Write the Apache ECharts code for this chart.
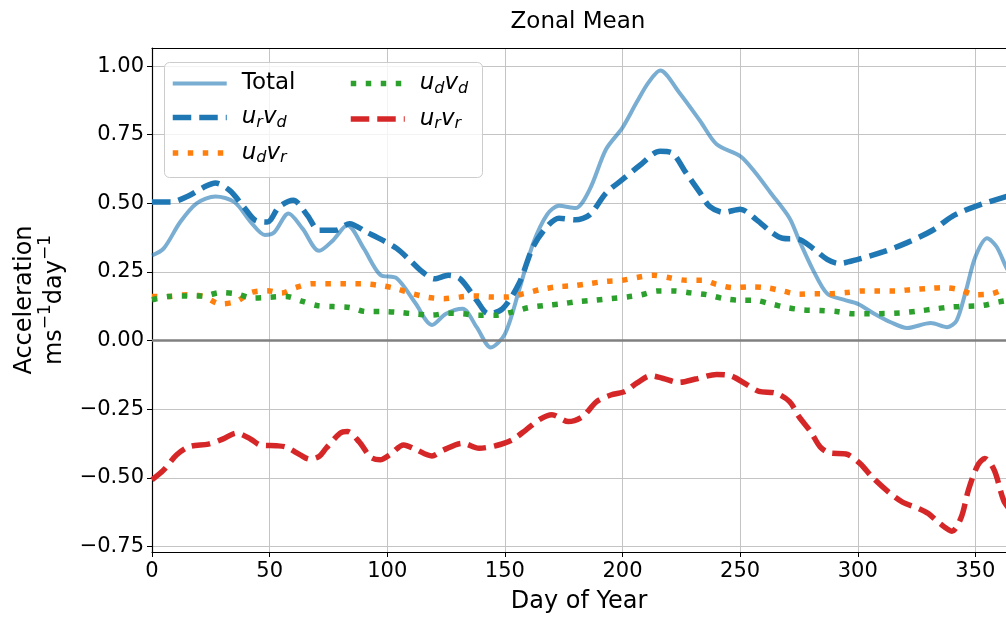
<!DOCTYPE html>
<html>
<head>
<meta charset="utf-8">
<script src="https://cdn.jsdelivr.net/npm/echarts@6/dist/echarts.min.js"></script>
<style>
  html, body { margin: 0; padding: 0; background: #fff; }
  #chart { width: 1006px; height: 617px; }
</style>
</head>
<body>
<div id="chart"></div>
<script>
// tick labels
var xTicks = [0, 50, 100, 150, 200, 250, 300, 350];
var yTicks = [-0.75, -0.5, -0.25, 0, 0.25, 0.5, 0.75, 1.0];

// Total
var totalDays = [0, 5, 12, 19, 27, 35, 42, 48, 52, 58, 64, 71, 77, 83, 90, 97, 104, 112, 119, 125, 132, 138, 144, 150, 156, 162, 168, 173, 180, 186, 193, 200, 206, 211, 216, 224, 233, 240, 250, 256, 263, 271, 275, 281, 287, 294, 300, 307, 314, 321, 331, 338, 342, 346, 350, 355, 359, 363, 365];
var totalVals = [0.31, 0.336, 0.432, 0.50, 0.525, 0.505, 0.432, 0.385, 0.395, 0.463, 0.408, 0.327, 0.366, 0.42, 0.336, 0.24, 0.227, 0.136, 0.057, 0.098, 0.116, 0.049, -0.025, 0.024, 0.183, 0.354, 0.46, 0.491, 0.483, 0.55, 0.697, 0.776, 0.868, 0.94, 0.984, 0.905, 0.80, 0.715, 0.672, 0.617, 0.538, 0.446, 0.367, 0.257, 0.171, 0.149, 0.134, 0.098, 0.067, 0.046, 0.064, 0.049, 0.073, 0.183, 0.306, 0.373, 0.342, 0.269, 0.24];

// u_r v_d
var urvdDays = [0, 8, 15, 22, 27, 33, 39, 44, 49, 54, 60, 66, 71, 78, 84, 91, 98, 104, 110, 115, 120, 126, 131, 138, 143, 149, 156, 162, 168, 173, 180, 186, 193, 200, 207, 216, 221, 227, 233, 237, 243, 250, 257, 263, 268, 275, 281, 287, 292, 300, 311, 321, 332, 340, 350, 365];
var urvdVals = [0.505, 0.505, 0.525, 0.559, 0.574, 0.547, 0.487, 0.438, 0.432, 0.487, 0.511, 0.457, 0.402, 0.402, 0.426, 0.396, 0.366, 0.336, 0.29, 0.25, 0.225, 0.238, 0.225, 0.147, 0.098, 0.116, 0.208, 0.342, 0.416, 0.446, 0.44, 0.458, 0.538, 0.587, 0.636, 0.69, 0.684, 0.611, 0.538, 0.489, 0.467, 0.479, 0.44, 0.397, 0.373, 0.369, 0.336, 0.296, 0.281, 0.296, 0.324, 0.357, 0.403, 0.452, 0.489, 0.53];

// u_d v_r
var udvrDays = [0, 7, 15, 22, 29, 36, 42, 49, 55, 61, 68, 83, 89, 96, 103, 110, 117, 124, 131, 137, 144, 151, 158, 165, 172, 179, 186, 193, 200, 206, 213, 220, 227, 234, 240, 247, 254, 261, 268, 275, 282, 288, 295, 302, 316, 323, 330, 337, 343, 350, 357, 363, 365];
var udvrVals = [0.161, 0.161, 0.167, 0.161, 0.134, 0.143, 0.175, 0.182, 0.173, 0.193, 0.207, 0.207, 0.207, 0.202, 0.191, 0.173, 0.158, 0.153, 0.159, 0.163, 0.159, 0.159, 0.171, 0.186, 0.196, 0.2, 0.208, 0.216, 0.22, 0.23, 0.238, 0.229, 0.22, 0.22, 0.205, 0.193, 0.196, 0.193, 0.181, 0.169, 0.171, 0.171, 0.175, 0.181, 0.181, 0.186, 0.19, 0.193, 0.186, 0.167, 0.171, 0.19, 0.195];

// u_d v_d
var udvdDays = [0, 7, 15, 22, 29, 36, 43, 50, 57, 64, 70, 77, 84, 91, 98, 105, 112, 119, 126, 132, 139, 146, 153, 160, 167, 174, 180, 188, 195, 202, 208, 215, 222, 229, 236, 243, 250, 256, 263, 270, 277, 284, 291, 298, 305, 318, 326, 333, 339, 346, 353, 360, 365];
var udvdVals = [0.149, 0.161, 0.163, 0.163, 0.175, 0.17, 0.155, 0.158, 0.161, 0.143, 0.128, 0.124, 0.121, 0.106, 0.106, 0.103, 0.097, 0.093, 0.1, 0.098, 0.092, 0.092, 0.104, 0.12, 0.128, 0.134, 0.141, 0.147, 0.153, 0.159, 0.167, 0.181, 0.181, 0.174, 0.167, 0.153, 0.147, 0.147, 0.134, 0.12, 0.112, 0.11, 0.106, 0.098, 0.098, 0.101, 0.108, 0.116, 0.122, 0.125, 0.128, 0.141, 0.148];

// u_r v_r
var urvrDays = [0, 5, 10.5, 16, 24, 30, 36, 42, 46, 53, 57, 63, 67, 71, 74, 80, 83, 88, 93, 97, 101, 107, 112, 119, 124, 132, 139, 146, 153, 159, 165, 170, 177, 183, 189, 195, 201, 206, 212, 217, 224, 231, 240, 246, 253, 258, 265, 271, 275, 280, 284, 288, 295, 301, 306, 313, 319, 326, 330, 335, 340, 344, 347, 351, 354, 358, 362, 365];
var urvrVals = [-0.507, -0.471, -0.416, -0.386, -0.377, -0.359, -0.337, -0.359, -0.38, -0.383, -0.388, -0.416, -0.432, -0.422, -0.392, -0.337, -0.331, -0.368, -0.425, -0.434, -0.416, -0.38, -0.396, -0.42, -0.398, -0.374, -0.392, -0.383, -0.362, -0.325, -0.286, -0.27, -0.295, -0.277, -0.222, -0.198, -0.185, -0.155, -0.128, -0.137, -0.152, -0.14, -0.123, -0.128, -0.161, -0.185, -0.191, -0.222, -0.277, -0.332, -0.387, -0.409, -0.413, -0.448, -0.496, -0.551, -0.588, -0.612, -0.63, -0.667, -0.694, -0.643, -0.545, -0.454, -0.429, -0.472, -0.582, -0.62];

function pairs(xs, ys) {
	var out = [];
	for (var i = 0; i < xs.length; i++) out.push([xs[i], ys[i]]);
	return out;
}

var FONT = 'DejaVu Sans';
var mathRich = {
	m: { fontFamily: FONT, fontStyle: 'italic', fontSize: 23, lineHeight: 26, verticalAlign: 'middle', color: '#000' },
	s: { fontFamily: FONT, fontStyle: 'italic', fontSize: 16, lineHeight: 26, verticalAlign: 'bottom', color: '#000' },
	t: { fontFamily: FONT, fontSize: 23, lineHeight: 26, color: '#000' }
};
var labelMap = {
	'Total': '{t|Total}',
	'urvd': '{m|u}{s|r}{m|v}{s|d}',
	'udvr': '{m|u}{s|d}{m|v}{s|r}',
	'udvd': '{m|u}{s|d}{m|v}{s|d}',
	'urvr': '{m|u}{s|r}{m|v}{s|r}'
};

var dashed = [18.5, 8];
var dotted = [5.5, 9.5];

function lineSeries(name, data, color, width, dash, z) {
	return {
		name: name,
		type: 'line',
		data: data,
		smooth: 0.3,
		symbol: 'none',
		z: z,
		lineStyle: { color: color, width: width, type: dash, cap: 'butt' },
		itemStyle: { color: color },
		emphasis: { disabled: true }
	};
}

function legendItem(name, width, dash) {
	return { name: name, lineStyle: { width: width, type: dash, cap: 'butt' } };
}

var myChart = echarts.init(document.getElementById('chart'), null, { renderer: 'canvas' });
var series = [
	lineSeries('Total', pairs(totalDays, totalVals), 'rgba(31,119,180,0.6)', 4, 'solid', 3),
	lineSeries('urvd', pairs(urvdDays, urvdVals), '#1f77b4', 5.5, dashed, 4),
	lineSeries('udvr', pairs(udvrDays, udvrVals), '#ff7f0e', 5.5, dotted, 5),
	lineSeries('udvd', pairs(udvdDays, udvdVals), '#2ca02c', 5.5, dotted, 6),
	lineSeries('urvr', pairs(urvrDays, urvrVals), '#d62728', 5.5, dashed, 7)
];
series[0].markLine = {
	silent: true,
	symbol: 'none',
	label: { show: false },
	lineStyle: { color: '#808080', width: 2.5, type: 'solid' },
	data: [{ yAxis: 0 }]
};

var legendBase = {
	orient: 'vertical',
	itemWidth: 54,
	itemHeight: 20,
	itemGap: 11,
	itemStyle: { opacity: 0 },
	selectedMode: false,
	z: 20,
	formatter: function (n) { return labelMap[n]; },
	textStyle: { rich: mathRich, padding: [0, 0, 0, 10] }
};

option = {
	animation: false,
	backgroundColor: '#fff',
	textStyle: { fontFamily: FONT },
	title: {
		text: 'Zonal Mean',
		left: 573,
		textAlign: 'center',
		top: 6,
		textStyle: { fontFamily: FONT, fontSize: 23, fontWeight: 'normal', color: '#000' }
	},
	grid: { left: 152, right: 0, top: 48, bottom: 65, outerBoundsMode: 'none', containLabel: false },
	graphic: [{
		type: 'rect',
		z: 15,
		shape: { x: 164.5, y: 62.5, width: 318, height: 115, r: 5 },
		style: { fill: 'rgba(255,255,255,0.8)', stroke: '#cccccc', lineWidth: 1 }
	}],
	legend: [
		Object.assign({}, legendBase, {
			left: 165, top: 67,
			data: [legendItem('Total', 4, 'solid'), legendItem('urvd', 5.5, dashed), legendItem('udvr', 5.5, dotted)]
		}),
		Object.assign({}, legendBase, {
			left: 343, top: 67,
			data: [legendItem('udvd', 5.5, dotted), legendItem('urvr', 5.5, dashed)]
		})
	],
	xAxis: [{
		type: 'value',
		min: 0,
		max: 363,
		name: 'Day of Year',
		nameLocation: 'middle',
		nameGap: 38,
		nameTextStyle: { fontFamily: FONT, fontSize: 24, color: '#000' },
		axisLine: { show: true, onZero: false, lineStyle: { color: '#000', width: 1.2 } },
		axisTick: { show: true, customValues: xTicks, length: 5, lineStyle: { color: '#000' } },
		axisLabel: { customValues: xTicks, fontFamily: FONT, fontSize: 21, color: '#000', margin: 9 },
		splitLine: { show: true, lineStyle: { color: '#c4c4c4', width: 1 } }
	}, {
		type: 'value',
		position: 'top',
		min: 0,
		max: 363,
		axisLine: { show: true, onZero: false, lineStyle: { color: '#000', width: 1.2 } },
		axisTick: { show: false },
		axisLabel: { show: false },
		splitLine: { show: false }
	}],
	yAxis: {
		type: 'value',
		min: -0.77,
		max: 1.066,
		name: '{a|Acceleration}\n{a|ms}{p|\u22121}{a|day}{p|\u22121}',
		nameLocation: 'middle',
		nameRotate: 90,
		nameGap: 85,
		nameTextStyle: {
			color: '#000',
			rich: {
				a: { fontFamily: FONT, fontSize: 24, lineHeight: 30, verticalAlign: 'bottom', color: '#000' },
				p: { fontFamily: FONT, fontSize: 17, lineHeight: 30, verticalAlign: 'top', color: '#000' }
			}
		},
		axisLine: { show: true, onZero: false, lineStyle: { color: '#000', width: 1.2 } },
		axisTick: { show: true, customValues: yTicks, length: 5, lineStyle: { color: '#000' } },
		axisLabel: {
			customValues: yTicks,
			fontFamily: FONT,
			fontSize: 21,
			color: '#000',
			margin: 8,
			formatter: function (v) { return v.toFixed(2).replace('-', '\u2212'); }
		},
		splitLine: { show: true, lineStyle: { color: '#c4c4c4', width: 1 } }
	},
	series: series
};
myChart.setOption(option);
</script>
</body>
</html>
